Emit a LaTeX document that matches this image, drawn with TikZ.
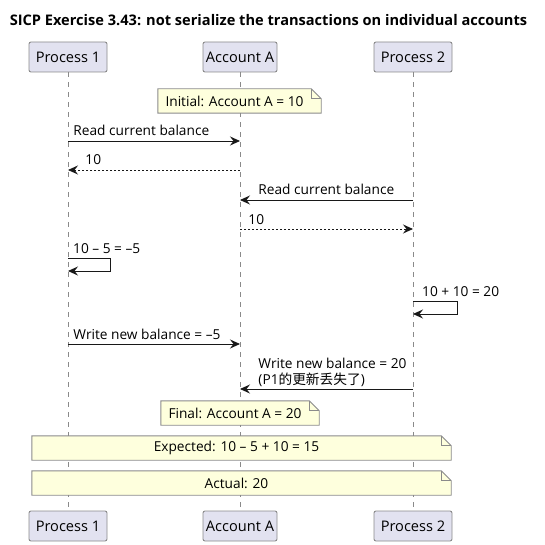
\documentclass[tikz,border=0pt]{standalone}
\usepackage{fontspec}
\setmainfont{Open Sans}
\newfontfamily\cjk{Noto Sans CJK SC}
\usetikzlibrary{arrows.meta}

\definecolor{partfill}{HTML}{E2E2F0}
\definecolor{notefill}{HTML}{FEFFDD}
\definecolor{umlgray}{HTML}{8A8A8A}
\definecolor{umlline}{HTML}{181818}

\tikzset{
  part/.style={draw=umlgray, fill=partfill, line width=0.9pt, rounded corners=2pt,
    minimum width=#1, minimum height=30pt, inner sep=0pt, font=\fontsize{14.6}{16}\selectfont},
  life/.style={draw=umlgray, line width=0.9pt, dash pattern=on 5pt off 5pt},
  msg/.style={draw=umlline, line width=0.9pt, -{Stealth[length=10pt,width=9pt,inset=3.5pt]}},
  reply/.style={msg, dash pattern=on 2pt off 2pt},
  lbl/.style={anchor=base west, inner sep=0pt, font=\fontsize{13.7}{15}\selectfont},
  note/.style={fill=notefill, minimum width=#1, minimum height=24pt, inner sep=0pt,
    font=\fontsize{13.7}{15}\selectfont},
  noteline/.style={draw=umlgray, line width=0.9pt, line join=miter}
}

% folded corner drawn on the right of a note node
\newcommand\fold[1]{%
  \fill[notefill] (#1.north east) -- ++(10pt,-10pt) |- (#1.south east) -- cycle;
  \draw[noteline] (#1.north west) -- (#1.north east) -- ++(10pt,-10pt) |- (#1.south west) -- cycle;
  \draw[noteline] (#1.north east) -- ++(0pt,-10pt) -- ++(10pt,0pt);
}

\begin{document}
\begin{tikzpicture}[x=1pt,y=-1pt]
  \useasboundingbox (0,0) rectangle (544,545);

  \node[font=\bfseries\fontsize{14.6}{16}\selectfont] (title) at (268.5,20)
    {SICP Exercise 3.43: not serialize the transactions on individual accounts};

  \node[part=78pt] (p1) at (68,57) {Process 1};
  \node[part=74pt] (acc) at (240,57) {Account A};
  \node[part=78pt] (p2) at (413,57) {Process 2};
  \node[part=78pt] (p1b) at (68,526) {Process 1};
  \node[part=74pt] (accb) at (240,526) {Account A};
  \node[part=78pt] (p2b) at (413,526) {Process 2};

  \draw[life] (p1) -- (p1b);
  \draw[life] (acc) -- (accb);
  \draw[life] (p2) -- (p2b);

  \coordinate (r1) at (0,141);
  \coordinate (r2) at (0,170);
  \coordinate (r3) at (0,200);
  \coordinate (r4) at (0,229);
  \coordinate (s1) at (110,258);
  \coordinate (s1b) at (0,271);
  \coordinate (s2) at (457,301);
  \coordinate (s2b) at (0,314);
  \coordinate (r5) at (0,344);
  \coordinate (r6) at (0,389);

  \node[note=153pt] (init) at (234.5,101) {Initial: Account A = 10};
  \fold{init}

  \draw[msg] (p1 |- r1) -- (acc |- r1)
    node[lbl, pos=0, xshift=5pt, yshift=5pt] (m1) {Read current balance};
  \draw[reply] (acc |- r2) -- (p1 |- r2)
    node[lbl, pos=1, xshift=17pt, yshift=5pt] (m2) {10};
  \draw[msg] (p2 |- r3) -- (acc |- r3)
    node[lbl, pos=1, xshift=18pt, yshift=5pt] (m3) {Read current balance};
  \draw[reply] (acc |- r4) -- (p2 |- r4)
    node[lbl, pos=0, xshift=8pt, yshift=5pt] (m4) {10};

  \draw[msg] (p1 |- s1) -| (s1) |- (p1 |- s1b);
  \node[lbl, xshift=5pt, yshift=5pt] (c1) at (p1 |- s1) {10 – 5 = –5};
  \draw[msg] (p2 |- s2) -| (s2) |- (p2 |- s2b);
  \node[lbl, xshift=9pt, yshift=5pt] (c2) at (p2 |- s2) {10 + 10 = 20};

  \draw[msg] (p1 |- r5) -- (acc |- r5)
    node[lbl, pos=0, xshift=5pt, yshift=5pt] (m5) {Write new balance = –5};
  \draw[msg] (p2 |- r6) -- (acc |- r6)
    node[lbl, pos=1, xshift=18pt, yshift=5pt] (m6b) {(P1{\cjk 的更新丢失了})}
    node[lbl, pos=1, xshift=18pt, yshift=21pt] (m6) {Write new balance = 20};

  \node[note=148pt] (final) at (235,413) {Final: Account A = 20};
  \fold{final}
  \node[note=409pt] (expect) at (236.5,448) {Expected: 10 – 5 + 10 = 15};
  \fold{expect}
  \node[note=409pt] (actual) at (236.5,483) {Actual: 20};
  \fold{actual}
\end{tikzpicture}
\end{document}
